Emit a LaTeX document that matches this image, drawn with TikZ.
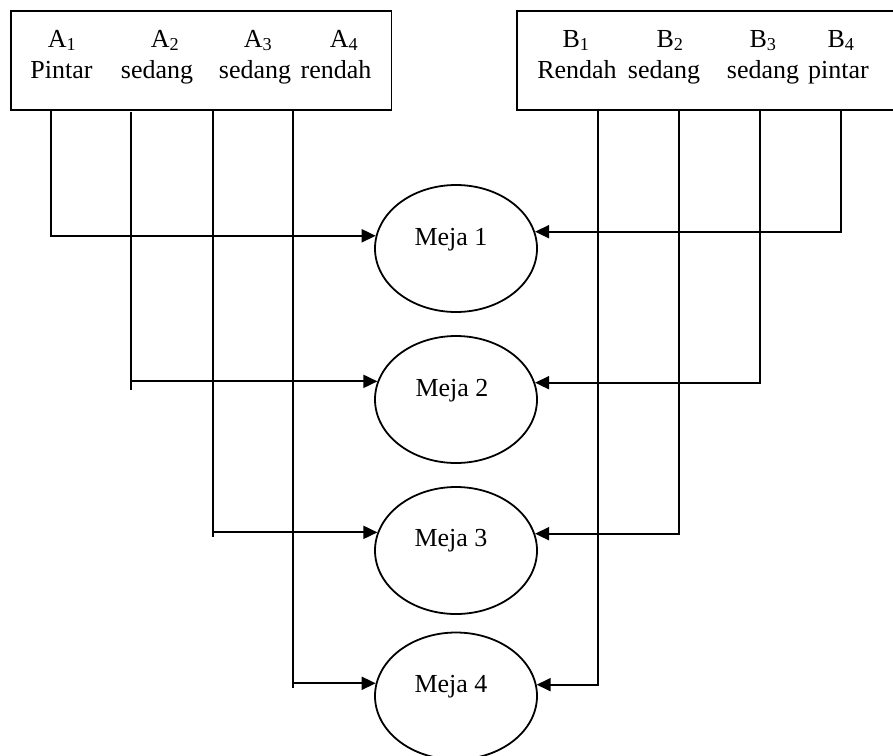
\documentclass[tikz,border=0pt]{standalone}
\usepackage{fontspec}
\setmainfont{Liberation Serif}
\usetikzlibrary{shapes.geometric,arrows.meta}
\begin{document}
\begin{tikzpicture}[x=1pt,y=-1pt,line width=1.8pt,
  every node/.style={font=\fontsize{26}{30}\selectfont},
  groupbox/.style={draw,rectangle,inner sep=0pt,anchor=north west,minimum height=99pt},
  meja/.style={draw,ellipse,minimum width=162pt,minimum height=127pt,inner sep=0pt},
  word/.style={anchor=base,inner sep=0pt},
  arr/.style={-{Triangle[length=14pt 0,width=13pt 0]}}]
\useasboundingbox (0,0) rectangle (893,755);

% the two groups of students
\node[groupbox,minimum width=380.5pt] (lbox) at (10,10) {};
\node[groupbox,minimum width=378pt] (rbox) at (516,10) {};

\node[word] (ta1) at (62,47) {A\textsubscript{1}};
\node[word] (ta2) at (165,47) {A\textsubscript{2}};
\node[word] (ta3) at (258,47) {A\textsubscript{3}};
\node[word] (ta4) at (344,47) {A\textsubscript{4}};
\node[word] (wa1) at (61.5,78) {Pintar};
\node[word] (wa2) at (157,78) {sedang};
\node[word] (wa3) at (255,78) {sedang};
\node[word] (wa4) at (336,78) {rendah};

\node[word] (tb1) at (576,47) {B\textsubscript{1}};
\node[word] (tb2) at (670,47) {B\textsubscript{2}};
\node[word] (tb3) at (763,47) {B\textsubscript{3}};
\node[word] (tb4) at (841,47) {B\textsubscript{4}};
\node[word] (wb1) at (577,78) {Rendah};
\node[word] (wb2) at (664,78) {sedang};
\node[word] (wb3) at (763,78) {sedang};
\node[word] (wb4) at (838.5,78) {pintar};

% the tables
\node[meja] (m1) at (456,248.5) {};
\node[meja] (m2) at (456,399.5) {};
\node[meja] (m3) at (456,550.5) {};
\node[meja] (m4) at (456,696) {};
\node[word,xshift=-5pt,yshift=3.4pt] at (m1) {Meja 1};
\node[word,xshift=-4pt,yshift=3.0pt] at (m2) {Meja 2};
\node[word,xshift=-5pt,yshift=3.8pt] at (m3) {Meja 3};
\node[word,xshift=-5pt,yshift=3.3pt] at (m4) {Meja 4};

% drop points under the boxes
\coordinate (a1) at (50.7,109);
\coordinate (a2) at (131,112);
\coordinate (a3) at (212.7,109);
\coordinate (a4) at (293,109);
\coordinate (b1) at (598,109);
\coordinate (b2) at (679,109);
\coordinate (b3) at (760,109);
\coordinate (b4) at (841,109);

% group A to the tables
\draw[arr] (a1) |- (m1.171.05);
\draw[arr] (a2) |- (m2.167.3);
\draw (a2 |- m2.167.3) -- ++(0,9);
\draw[arr] (a3) |- (m3.167.3);
\draw (a3 |- m3.167.3) -- ++(0,5);
\draw[arr] (a4) |- (m4.171.4);
\draw (a4 |- m4.171.4) -- ++(0,5);

% group B to the tables
\draw[arr] (b4) |- (m1.12.1);
\draw[arr] (b3) |- (m2.12.7);
\draw[arr] (b2) |- (m3.12.7);
\draw[arr] (b1) |- (m4.8.6);
\end{tikzpicture}
\end{document}
